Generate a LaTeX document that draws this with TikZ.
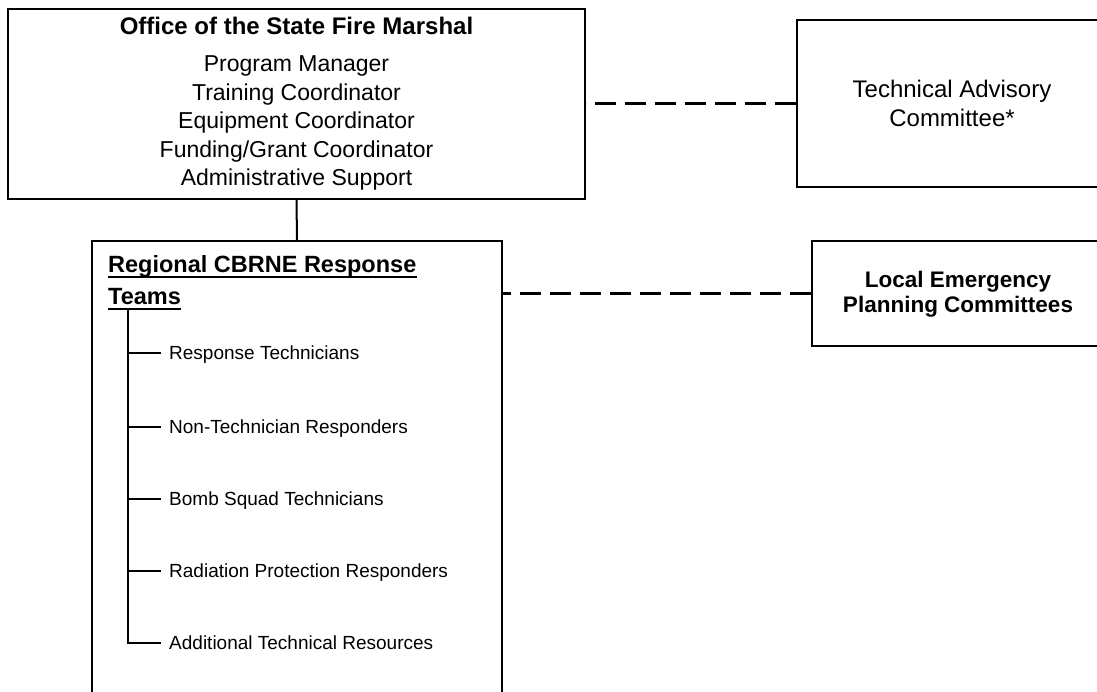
\documentclass[tikz,border=0pt]{standalone}
\usepackage{fontspec}
\setmainfont{Liberation Sans}
\begin{document}
\begin{tikzpicture}[x=1pt,y=-1pt,
  box/.style={draw=black, line width=2pt, inner sep=0pt, fill=none},
  dashlink/.style={draw=black, line width=3.2pt, dash pattern=on 21pt off 9pt},
  bigtext/.style={font=\fontsize{23}{28.5}\selectfont, align=center, inner sep=0pt},
  smalltext/.style={font=\fontsize{19}{23}\selectfont, anchor=west, inner sep=0pt, text height=13.6pt, text depth=0pt},
  treeline/.style={draw=black, line width=2pt},
  branch/.style={draw=black, line width=1.2pt}
]
\useasboundingbox (0,0) rectangle (1097,692);
\clip (0,0) rectangle (1097,692);
\fill[white] (0,0) rectangle (1097,692);

% boxes
\node[box, minimum width=577pt, minimum height=190pt] (office) at (296.5,104) {};
\node[box, minimum width=310pt, minimum height=167pt] (tac) at (952,103.5) {};
\node[box, minimum width=300pt, minimum height=105pt] (lepc) at (962,293.5) {};
\node[box, minimum width=410pt, minimum height=480pt] (rrt) at (297,481) {};

% texts
\node[bigtext] (officetext) at (office.center)
  {{\bfseries\fontsize{24}{28.5}\selectfont Office of the State Fire Marshal}\\[8.5pt]
   Program Manager\\ Training Coordinator\\ Equipment Coordinator\\
   Funding/Grant Coordinator\\ Administrative Support};
\node[bigtext, font=\fontsize{24}{28.5}\selectfont] (tactext) at (952,103.5) {Technical Advisory\\Committee*};
\node[bigtext, font=\bfseries\fontsize{22.5}{25}\selectfont] (lepctext) at (958,294) {Local Emergency\\Planning Committees};

\node[anchor=base west, inner sep=0pt, font=\bfseries\fontsize{23.5}{28}\selectfont] (rt1) at (108,273) {Regional CBRNE Response};
\node[anchor=base west, inner sep=0pt, font=\bfseries\fontsize{23.5}{28}\selectfont] (rt2) at (108,305) {Teams};
\draw[line width=1.6pt] ([yshift=-4pt]rt1.base west) -- ([yshift=-4pt]rt1.base east);
\draw[line width=1.6pt] ([yshift=-4pt]rt2.base west) -- ([yshift=-4pt]rt2.base east);

\node[smalltext] (b1) at (169,353) {Response Technicians};
\node[smalltext] (b2) at (169,427) {Non-Technician Responders};
\node[smalltext] (b3) at (169,499) {Bomb Squad Technicians};
\node[smalltext] (b4) at (169,571) {Radiation Protection Responders};
\node[smalltext] (b5) at (169,643) {Additional Technical Resources};

% tree
\coordinate (treetop) at (128,308);
\draw[treeline] (treetop) -- (treetop |- b5.west);
\foreach \b in {b1,b2,b3,b4,b5}
  \draw[branch] ([xshift=-1pt]treetop |- \b.west) -- ([xshift=-8pt]\b.west);

% connectors
\draw[line width=2pt] (office.south) -- (rrt.north);
\draw[dashlink] (tac.west) -- (tac.west -| office.east);
\draw[dashlink] (lepc.west) -- (lepc.west -| rrt.east);
\end{tikzpicture}
\end{document}
